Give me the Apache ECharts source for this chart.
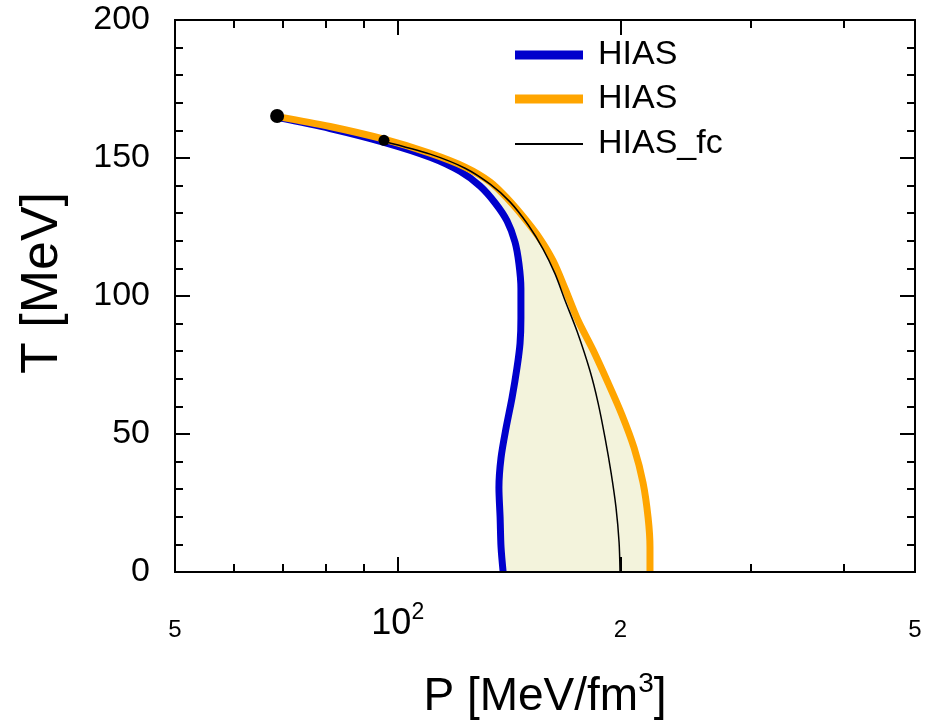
<!DOCTYPE html>
<html><head><meta charset="utf-8">
<script src="https://cdn.jsdelivr.net/npm/echarts@6/dist/echarts.min.js"></script>
<style>html,body{margin:0;padding:0;background:#fff}#c{width:937px;height:725px}</style>
</head><body><div id="c"></div>
<script>
// ---- data (P in MeV/fm^3, T in MeV) ----
const blueP = [68.7, 81.0, 95.8, 110.6, 121.4, 129.2, 135.4, 140.5, 144.0, 145.8, 146.7, 146.7, 146.3, 144.9, 142.7, 140.1, 137.9, 137.0, 137.5, 137.9, 138.8];
const blueT = [164.7, 160.7, 155.7, 150.3, 145.2, 139.8, 133.7, 127.2, 119.6, 111.7, 102.7, 91.9, 82.9, 73.9, 63.1, 52.3, 41.4, 30.6, 19.8, 9.0, 0];
const orangeP = [68.7, 81.0, 95.8, 110.6, 123.3, 133.3, 140.9, 148.6, 155.7, 162.1, 168.3, 175.2, 183.6, 192.4, 200.9, 208.6, 214.5, 217.9, 219.2, 219.2];
const orangeT = [165.0, 161.4, 156.8, 151.7, 146.7, 141.3, 135.1, 127.9, 120.7, 112.8, 102.7, 91.2, 80.4, 68.5, 56.9, 45.0, 32.4, 19.8, 9.0, 0];
const fcP = [95.8, 110.6, 123.3, 133.3, 141.8, 150.0, 157.1, 163.1, 168.3, 174.7, 181.9, 186.5, 190.6, 194.2, 197.2, 199.1, 199.7];
const fcT = [156.0, 151.4, 146.3, 140.5, 134.1, 125.8, 117.1, 108.1, 98.4, 87.2, 72.8, 61.3, 48.6, 36.0, 23.4, 10.8, 0];
const dotP = [68.7, 95.8];
const dotT = [165.2, 156.4];
const xMajorTicks = [50, 100, 200, 500];
const xMinorTicks = [60, 70, 80, 90, 300, 400];
const xLabelValues = [50, 100, 200, 500];
const seriesNames = ['HIAS', 'HIAS ', 'HIAS_fc'];

const L = v => Math.log10(v);
const pairs = (P, T) => P.map((p, i) => [L(p), T[i]]);
const FONT = "'Liberation Sans', Arial, Helvetica, sans-serif";
const xMin = L(50), xMax = L(500);

const chart = echarts.init(document.getElementById('c'));

function xAxisDef(position, ticks, len, withLabels) {
  const ax = {
    type: 'value', position: position, min: xMin, max: xMax, z: 10,
    splitLine: { show: false },
    axisLine: { show: true, onZero: false, lineStyle: { color: '#000', width: 2 } },
    axisTick: { show: true, inside: true, length: len, customValues: ticks.map(L), lineStyle: { color: '#000', width: 2 } },
    axisLabel: { show: false }
  };
  if (withLabels) {
    ax.axisLabel = {
      show: true, customValues: xLabelValues.map(L), margin: 70, verticalAlign: 'bottom',
      formatter: function (v) {
        const p = Math.round(Math.pow(10, v));
        if (p === 100) return '{b|10}{s|2}';
        return '{m|' + String(p).charAt(0) + '}';
      },
      rich: {
        m: { fontSize: 24, fontFamily: FONT, color: '#000' },
        b: { fontSize: 36, fontFamily: FONT, color: '#000', verticalAlign: 'bottom' },
        s: { fontSize: 23, fontFamily: FONT, color: '#000', verticalAlign: 'top', padding: [0, 0, 18, 0] }
      }
    };
    ax.name = '{t|P [MeV/fm}{s|3}{t|]}';
    ax.nameLocation = 'middle';
    ax.nameGap = 98;
    ax.nameTextStyle = {
      rich: {
        t: { fontSize: 46, fontFamily: FONT, color: '#000' },
        s: { fontSize: 28, fontFamily: FONT, color: '#000', verticalAlign: 'top', padding: [0, 0, 26, 0] }
      }
    };
  }
  return ax;
}

function yAxisDef(position, labels) {
  return {
    type: 'value', position: position, min: 0, max: 200, interval: 50, z: 10,
    splitLine: { show: false },
    axisLine: { show: true, onZero: false, lineStyle: { color: '#000', width: 2 } },
    axisTick: { show: true, inside: true, length: 15, lineStyle: { color: '#000', width: 2 } },
    minorTick: { show: true, splitNumber: 5, length: 8, lineStyle: { color: '#000', width: 2 } },
    axisLabel: labels ? { show: true, fontSize: 34, fontFamily: FONT, color: '#000', margin: 25 } : { show: false },
    name: labels ? 'T [MeV]' : '',
    nameLocation: 'middle', nameGap: 106, nameRotate: 90,
    nameTextStyle: { fontSize: 52, fontFamily: FONT, color: '#000', padding: [0, 0, 0, 26] }
  };
}

function legendDef(name, top, thick) {
  return {
    data: [name], left: 515, top: top, orient: 'vertical', padding: 0,
    icon: 'rect', itemWidth: 68, itemHeight: thick, selectedMode: false,
    formatter: n => n.trim(),
    textStyle: { fontSize: 34, lineHeight: 34, fontFamily: FONT, color: '#000', padding: [0, 0, 0, 10] }
  };
}

const option = {
  animation: false,
  backgroundColor: '#fff',
  grid: { left: 175, right: 22, top: 20, bottom: 150, containLabel: false },
  xAxis: [
    xAxisDef('bottom', xMajorTicks, 15, true),
    xAxisDef('bottom', xMinorTicks, 8, false),
    xAxisDef('top', xMajorTicks, 15, false),
    xAxisDef('top', xMinorTicks, 8, false)
  ],
  yAxis: [yAxisDef('left', true), yAxisDef('right', false)],
  legend: [
    legendDef(seriesNames[0], 38, 9),
    legendDef(seriesNames[1], 82, 9),
    legendDef(seriesNames[2], 127, 2)
  ],
  series: [
    {
      type: 'custom', z: 1, silent: true, data: [0],
      renderItem: function (params, api) {
        const pts = [];
        for (let i = 0; i < orangeP.length; i++) pts.push(api.coord([L(orangeP[i]), orangeT[i]]));
        for (let i = blueP.length - 1; i >= 0; i--) pts.push(api.coord([L(blueP[i]), blueT[i]]));
        return { type: 'polygon', shape: { points: pts }, style: { fill: '#f3f3dc' } };
      }
    },
    {
      name: seriesNames[0], type: 'line', z: 2, data: pairs(blueP, blueT), symbol: 'none', smooth: 0.3,
      lineStyle: { color: '#0000cc', width: 7 }, itemStyle: { color: '#0000cc' }
    },
    {
      name: seriesNames[1], type: 'line', z: 3, data: pairs(orangeP, orangeT), symbol: 'none', smooth: 0.3,
      lineStyle: { color: '#ffa500', width: 7 }, itemStyle: { color: '#ffa500' }
    },
    {
      name: seriesNames[2], type: 'line', z: 4, data: pairs(fcP, fcT), symbol: 'none', smooth: 0.3,
      lineStyle: { color: '#000', width: 1.5 }, itemStyle: { color: '#000' }
    },
    {
      type: 'scatter', z: 5, data: pairs(dotP, dotT),
      symbolSize: (v, p) => (p.dataIndex === 0 ? 14 : 11),
      itemStyle: { color: '#000', opacity: 1 }
    }
  ]
};
chart.setOption(option);
</script>
</body></html>
